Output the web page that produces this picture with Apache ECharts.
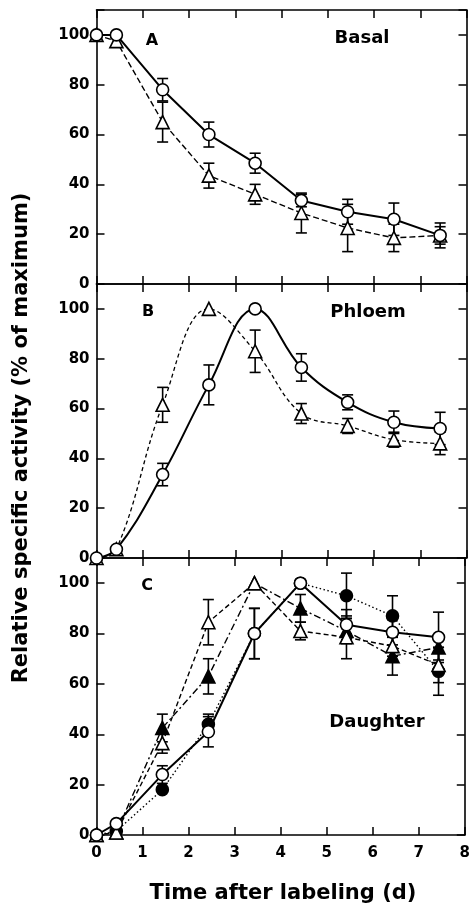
<!DOCTYPE html>
<html>
<head>
<meta charset="utf-8">
<script src="https://cdn.jsdelivr.net/npm/echarts@6/dist/echarts.min.js"></script>
<style>
  html, body { margin: 0; padding: 0; background: #fff; }
  #chart { width: 473px; height: 907px; }
</style>
</head>
<body>
<div id="chart"></div>
<script>
// sampling times (d)
const times = [0, 0.43, 1.43, 2.43, 3.43, 4.43, 5.43, 6.43, 7.43];
const xTicks = ['0', '1', '2', '3', '4', '5', '6', '7', '8'];

// A  Basal
const basalCircle = [100, 100, 78, 60, 48.5, 33.5, 29, 26, 19.5];
const basalCircleErr = [0, 0, 4.5, 5, 4, 2.5, 5, 6.5, 5];
const basalTriangle = [100, 97.5, 65, 43.5, 36, 28.5, 22.5, 18.5, 19.5];
const basalTriangleErr = [0, 0, 8, 5, 4, 8, 9.5, 5.5, 3.5];

// B  Phloem
const phloemCircle = [0, 3.5, 33.5, 69.5, 100, 76.5, 62.5, 54.5, 52];
const phloemCircleErr = [0, 0, 4.5, 8, 0, 5.5, 3, 4.5, 6.5];
const phloemTriangle = [0, 3.5, 61.5, 100, 83, 58, 53, 47.5, 46];
const phloemTriangleErr = [0, 0, 7, 0, 8.5, 4, 3, 3, 4.5];

// C  Daughter
const daughterOpenCircle = [0, 4.5, 24, 41, 80, 100, 83.5, 80.5, 78.5];
const daughterOpenCircleErr = [0, 0, 3.5, 6, 10, 0, 6, 5, 10];
const daughterFilledCircle = [0, 1.5, 18, 44, 80, 100, 95, 87, 65];
const daughterFilledCircleErr = [0, 0, 0, 4, 10, 0, 9, 8, 9.5];
const daughterOpenTriangle = [0, 1, 36.5, 84.5, 100, 81, 78.5, 75, 67.5];
const daughterOpenTriangleErr = [0, 0, 4, 9, 0, 3.5, 8.5, 4, 7];
const daughterFilledTriangle = [0, 1, 42.5, 63, 100, 90, 81, 71, 74.5];
const daughterFilledTriangleErr = [0, 0, 5.5, 7, 0, 5.5, 5, 7.5, 5];

const FONT = 'DejaVu Sans';
const chart = echarts.init(document.getElementById('chart'));

const grids = [
  { left: 96.5, width: 370, top: 10, height: 274 },
  { left: 96.5, width: 370, top: 284, height: 274 },
  { left: 96.5, width: 370, top: 558, height: 277 }
];

const frameLine = { show: true, onZero: false, lineStyle: { color: '#000', width: 1.6 } };
const tick = { show: true, inside: true, length: 8, lineStyle: { color: '#000', width: 1.5 } };

let xAxes = [], yAxes = [];
grids.forEach((g, i) => {
  ['bottom', 'top'].forEach(pos => {
    xAxes.push({
      gridIndex: i, type: 'value', position: pos, min: 0, max: 8, interval: 1,
      axisLine: frameLine, axisTick: tick, splitLine: { show: false },
      axisLabel: {
        show: pos === 'bottom' && i === 2, margin: 11, color: '#000',
        fontFamily: FONT, fontWeight: 'bold', fontSize: 15,
        formatter: v => xTicks[v]
      }
    });
  });
  ['left', 'right'].forEach(pos => {
    yAxes.push({
      gridIndex: i, type: 'value', position: pos, min: 0, max: 110, interval: 20,
      axisLine: frameLine, axisTick: tick, splitLine: { show: false },
      axisLabel: {
        show: pos === 'left', margin: 7, color: '#000',
        fontFamily: FONT, fontWeight: 'bold', fontSize: 15,
        formatter: v => (v > 100 ? '' : v)
      }
    });
  });
});

function pts(vals) {
  return times.map((t, i) => [t, vals[i]]);
}

function errPts(vals, errs) {
  const out = [];
  times.forEach((t, i) => {
    if (errs[i] > 0) out.push([t, vals[i] - errs[i], vals[i] + errs[i]]);
  });
  return out;
}

function renderErr(params, api) {
  const x = api.value(0);
  const lo = api.coord([x, api.value(1)]);
  const hi = api.coord([x, api.value(2)]);
  const w = 5.5;
  const st = { stroke: '#000', lineWidth: 1.6 };
  return {
    type: 'group',
    children: [
      { type: 'line', shape: { x1: lo[0], y1: lo[1], x2: hi[0], y2: hi[1] }, style: st },
      { type: 'line', shape: { x1: hi[0] - w, y1: hi[1], x2: hi[0] + w, y2: hi[1] }, style: st },
      { type: 'line', shape: { x1: lo[0] - w, y1: lo[1], x2: lo[0] + w, y2: lo[1] }, style: st }
    ]
  };
}

function errSeries(g, vals, errs) {
  return {
    type: 'custom', coordinateSystem: 'cartesian2d',
    xAxisIndex: g * 2, yAxisIndex: g * 2, z: 2, clip: false,
    renderItem: renderErr, data: errPts(vals, errs)
  };
}

function lineSeries(g, vals, shape, filled, dash, width, smooth) {
  return {
    type: 'line', xAxisIndex: g * 2, yAxisIndex: g * 2, z: 3, clip: false,
    data: pts(vals), smooth: smooth || false,
    symbol: shape, symbolSize: shape === 'triangle' ? 13 : 12,
    itemStyle: { color: filled ? '#000' : '#fff', borderColor: '#000', borderWidth: 1.6 },
    lineStyle: { color: '#000', width: width, type: dash }
  };
}

const series = [
  errSeries(0, basalTriangle, basalTriangleErr),
  errSeries(0, basalCircle, basalCircleErr),
  lineSeries(0, basalTriangle, 'triangle', false, [6, 3], 1.4),
  lineSeries(0, basalCircle, 'circle', false, 'solid', 2),

  errSeries(1, phloemTriangle, phloemTriangleErr),
  errSeries(1, phloemCircle, phloemCircleErr),
  lineSeries(1, phloemTriangle, 'triangle', false, [4, 3], 1.3, 0.4),
  lineSeries(1, phloemCircle, 'circle', false, 'solid', 2, 0.4),

  errSeries(2, daughterFilledCircle, daughterFilledCircleErr),
  errSeries(2, daughterFilledTriangle, daughterFilledTriangleErr),
  errSeries(2, daughterOpenTriangle, daughterOpenTriangleErr),
  errSeries(2, daughterOpenCircle, daughterOpenCircleErr),
  lineSeries(2, daughterFilledCircle, 'circle', true, [1.5, 2.5], 1.4),
  lineSeries(2, daughterFilledTriangle, 'triangle', true, [7, 3, 2, 3], 1.4),
  lineSeries(2, daughterOpenTriangle, 'triangle', false, [5, 3], 1.4),
  lineSeries(2, daughterOpenCircle, 'circle', false, 'solid', 2)
];

function label(text, x, y, size, rot) {
  return {
    type: 'text', x: x, y: y, rotation: rot || 0, z: 10,
    style: {
      text: text, fill: '#000', font: 'bold ' + size + 'px "' + FONT + '"',
      align: 'center', verticalAlign: 'middle', textAlign: 'center', textVerticalAlign: 'middle'
    }
  };
}

chart.setOption({
  animation: false,
  grid: grids,
  xAxis: xAxes,
  yAxis: yAxes,
  series: series,
  graphic: [
    label('A', 152, 41, 16),
    label('Basal', 362, 38, 18),
    label('B', 148, 312, 16),
    label('Phloem', 368, 312, 18),
    label('C', 147, 586, 16),
    label('Daughter', 377, 722, 18),
    label('Time after labeling (d)', 283, 894, 21),
    label('Relative specific activity (% of maximum)', 22, 438, 21, Math.PI / 2)
  ]
});
</script>
</body>
</html>
